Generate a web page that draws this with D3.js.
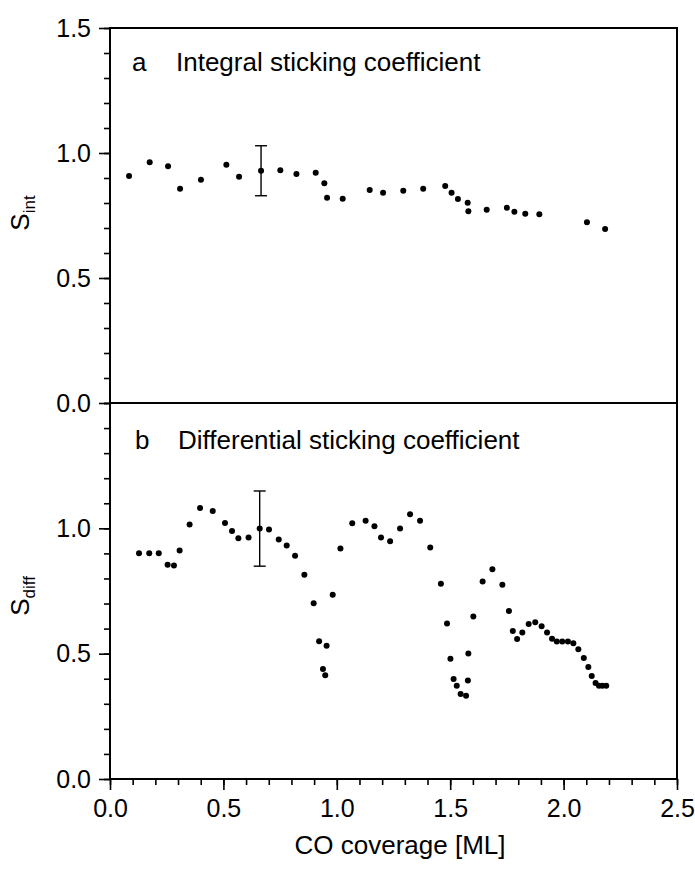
<!DOCTYPE html>
<html>
<head>
<meta charset="utf-8">
<script src="https://cdn.jsdelivr.net/npm/d3@7/dist/d3.min.js"></script>
<style>
  body { margin: 0; background: #fff; }
  svg text { font-family: "Liberation Sans", Arial, sans-serif; fill: #000; }
</style>
</head>
<body>
<svg width="695" height="873"></svg>
<script>
// panel a: integral sticking coefficient
var intX = [0.084,0.175,0.256,0.309,0.401,0.513,0.569,0.666,0.751,0.822,0.907,0.945,0.957,1.026,1.145,1.204,
    1.293,1.381,1.478,1.506,1.534,1.577,1.580,1.661,1.750,1.783,1.831,1.893,2.103,2.183];
var intY = [0.908,0.963,0.947,0.857,0.893,0.953,0.905,0.929,0.931,0.916,0.921,0.879,0.821,0.817,0.852,0.841,
    0.849,0.857,0.868,0.841,0.816,0.801,0.767,0.773,0.781,0.765,0.757,0.755,0.723,0.696];
var intErr = [{x: 0.666, y: 0.929, e: 0.10}];

// panel b: differential sticking coefficient
var diffX = [0.128,0.173,0.215,0.254,0.282,0.307,0.351,0.397,0.453,0.507,0.538,0.566,0.611,0.660,0.701,0.744,
    0.779,0.816,0.857,0.898,0.922,0.939,0.949,0.955,0.982,1.016,1.068,1.127,1.166,1.195,1.235,1.279,1.323,1.367,
    1.412,1.459,1.486,1.501,1.515,1.529,1.546,1.570,1.578,1.580,1.602,1.643,1.686,1.730,1.759,1.776,1.795,1.818,
    1.846,1.875,1.903,1.927,1.949,1.970,1.994,2.019,2.043,2.065,2.089,2.109,2.124,2.141,2.156,2.171,2.188];
var diffY = [0.901,0.901,0.901,0.855,0.852,0.912,1.015,1.081,1.069,1.021,0.989,0.960,0.963,0.999,0.995,0.955,
    0.932,0.891,0.815,0.701,0.550,0.439,0.414,0.532,0.735,0.920,1.020,1.030,1.008,0.963,0.948,0.999,1.056,1.030,
    0.924,0.779,0.620,0.480,0.399,0.372,0.339,0.332,0.393,0.501,0.648,0.788,0.837,0.775,0.670,0.590,0.559,0.584,
    0.618,0.625,0.609,0.584,0.560,0.549,0.549,0.549,0.542,0.518,0.483,0.447,0.411,0.383,0.372,0.372,0.372];
var diffErr = [{x: 0.660, y: 0.999, e: 0.15}];

var xTicks = [0, 0.5, 1.0, 1.5, 2.0, 2.5];
var yTicksA = [0, 0.5, 1.0, 1.5];
var yTicksB = [0, 0.5, 1.0];

var svg = d3.select('svg');
var fs = 25;

var scaleX = d3.scaleLinear().domain([0, 2.5]).range([110, 677]);
var scaleYa = d3.scaleLinear().domain([0, 1.5]).range([403, 28]);
var scaleYb = d3.scaleLinear().domain([0, 1.5]).range([779, 403]);

var minorY = d3.range(0, 1.501, 0.1);
var minorX = d3.range(0, 2.501, 0.1);

function styleAxis(g) {
    g.select('.domain').remove();
    g.selectAll('line').attr('stroke-width', 1.6);
    g.selectAll('text').attr('font-size', fs).attr('font-family', null);
}

function leftAxis(scale, major) {
    var g1 = svg.append('g').attr('transform', 'translate(110,0)')
        .call(d3.axisLeft(scale).tickValues(minorY).tickSize(6).tickFormat(''));
    var g2 = svg.append('g').attr('transform', 'translate(110,0)')
        .call(d3.axisLeft(scale).tickValues(major).tickSize(11).tickPadding(8)
            .tickFormat(d3.format('.1f')));
    styleAxis(g1);
    styleAxis(g2);
}

leftAxis(scaleYa, yTicksA);
leftAxis(scaleYb, yTicksB);

var gx1 = svg.append('g').attr('transform', 'translate(0,779)')
    .call(d3.axisBottom(scaleX).tickValues(minorX).tickSize(6).tickFormat(''));
var gx2 = svg.append('g').attr('transform', 'translate(0,779)')
    .call(d3.axisBottom(scaleX).tickValues(xTicks).tickSize(11).tickPadding(9)
        .tickFormat(d3.format('.1f')));
styleAxis(gx1);
styleAxis(gx2);

// frame
svg.append('rect')
    .attr('x', 110).attr('y', 28)
    .attr('width', 567).attr('height', 751)
    .attr('fill', 'none').attr('stroke', '#000').attr('stroke-width', 2);
svg.append('line')
    .attr('x1', 110).attr('x2', 677)
    .attr('y1', 403).attr('y2', 403)
    .attr('stroke', '#000').attr('stroke-width', 2);

function drawPanel(xs, ys, err, scaleY) {
    var pts = xs.map(function(x, i) { return {x: x, y: ys[i]}; });
    svg.selectAll(null)
        .data(pts)
        .enter()
        .append('circle')
        .attr('cx', function(d) { return scaleX(d.x); })
        .attr('cy', function(d) { return scaleY(d.y); })
        .attr('r', 3)
        .attr('fill', '#000');

    var eb = svg.selectAll(null).data(err).enter().append('g')
        .attr('stroke', '#000').attr('stroke-width', 1.4);
    eb.append('line')
        .attr('x1', function(d) { return scaleX(d.x); })
        .attr('x2', function(d) { return scaleX(d.x); })
        .attr('y1', function(d) { return scaleY(d.y - d.e); })
        .attr('y2', function(d) { return scaleY(d.y + d.e); });
    [-1, 1].forEach(function(s) {
        eb.append('line')
            .attr('x1', function(d) { return scaleX(d.x) - 6; })
            .attr('x2', function(d) { return scaleX(d.x) + 6; })
            .attr('y1', function(d) { return scaleY(d.y + s * d.e); })
            .attr('y2', function(d) { return scaleY(d.y + s * d.e); });
    });
}

drawPanel(intX, intY, intErr, scaleYa);
drawPanel(diffX, diffY, diffErr, scaleYb);

// panel labels
svg.append('text').text('a').attr('x', 132).attr('y', 71).attr('font-size', 26);
svg.append('text').text('Integral sticking coefficient').attr('x', 176).attr('y', 71).attr('font-size', 26);
svg.append('text').text('b').attr('x', 135).attr('y', 449).attr('font-size', 26);
svg.append('text').text('Differential sticking coefficient').attr('x', 178).attr('y', 449).attr('font-size', 26);

// axis titles
svg.append('text')
    .text('CO coverage [ML]')
    .attr('x', 400).attr('y', 854)
    .attr('font-size', 26)
    .style('text-anchor', 'middle');

function yTitle(sub, cy) {
    var t = svg.append('text')
        .attr('transform', 'translate(29,' + cy + ') rotate(-90)')
        .attr('font-size', 26)
        .style('text-anchor', 'middle');
    t.append('tspan').text('S');
    t.append('tspan').text(sub).attr('font-size', 17).attr('dy', 6);
}
yTitle('int', 213);
yTitle('diff', 596);
</script>
</body>
</html>
